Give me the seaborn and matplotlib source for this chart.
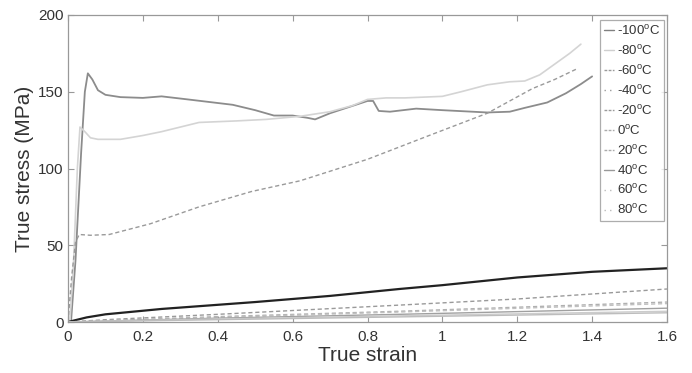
import matplotlib
matplotlib.use("Agg")
import matplotlib.pyplot as plt
import seaborn as sns
import pandas as pd
from matplotlib.lines import Line2D

# ---- data ----
labels = ["-100", "-80", "-60", "-40", "-20", "0", "20", "40", "60", "80"]

strain_m100 = [0, 0.008, 0.02, 0.035, 0.045, 0.053, 0.065, 0.08, 0.1, 0.14, 0.2, 0.25, 0.32, 0.44,
               0.5, 0.55, 0.6, 0.64, 0.66, 0.7, 0.75, 0.8, 0.815, 0.83, 0.86, 0.93, 1.0, 1.12,
               1.18, 1.22, 1.28, 1.33, 1.37, 1.4]
stress_m100 = [0, 0, 40, 110, 150, 162, 158, 151, 148, 146.5, 146, 147, 145, 141.5,
               138, 134.5, 134.5, 133, 132, 136, 140, 144, 144, 137.5, 137, 139, 138, 136.5,
               137, 139.5, 143, 149, 155, 160]

strain_m80 = [0, 0.005, 0.015, 0.025, 0.032, 0.045, 0.06, 0.08, 0.14, 0.2, 0.25, 0.3, 0.35, 0.45,
              0.53, 0.62, 0.7, 0.76, 0.8, 0.85, 0.9, 1.0, 1.05, 1.12, 1.18, 1.22, 1.26, 1.3,
              1.34, 1.37]
stress_m80 = [0, 0, 40, 100, 127, 124, 120, 119, 119, 121.5, 124, 127, 130, 131,
              132, 134, 137, 141, 145, 146, 146, 147, 150, 154.5, 156.5, 157, 161, 168,
              175, 181]

strain_m60 = [0, 0.01, 0.02, 0.03, 0.06, 0.11, 0.22, 0.35, 0.49, 0.62, 0.8, 0.97, 1.12, 1.24, 1.3, 1.36]
stress_m60 = [0, 30, 52, 57, 56.5, 57, 64, 75, 85, 92, 106, 122, 136, 152, 158, 165]

strain_m40 = [0, 0.05, 0.1, 0.25, 0.5, 0.7, 0.885, 1.0, 1.2, 1.4, 1.6]
stress_m40 = [0, 3, 5, 8.5, 13, 17, 21.5, 24, 29, 32.7, 35]

strain_m20 = [0, 0.1, 0.4, 0.885, 1.2, 1.6]
stress_m20 = [0, 1.5, 5, 11, 15, 21.5]

strain_0 = [0, 0.4, 0.885, 1.6]
stress_0 = [0, 3.5, 7, 13]

strain_20 = [0, 0.4, 0.885, 1.6]
stress_20 = [0, 3, 6.5, 12]

strain_40 = [0, 0.4, 0.885, 1.6]
stress_40 = [0, 2.5, 5, 9]

strain_60 = [0, 0.4, 1.6]
stress_60 = [0, 2, 7]

strain_80 = [0, 0.4, 1.6]
stress_80 = [0, 1.5, 6]

x_ticks = [0, 0.2, 0.4, 0.6, 0.8, 1, 1.2, 1.4, 1.6]
x_tick_labels = ["0", "0.2", "0.4", "0.6", "0.8", "1", "1.2", "1.4", "1.6"]
y_ticks = [0, 50, 100, 150, 200]

# ---- styling ----
sns.set_theme(style="white")
plt.rcParams["font.family"] = ["Liberation Sans", "DejaVu Sans"]
plt.rcParams["mathtext.fontset"] = "custom"
plt.rcParams["mathtext.rm"] = "Liberation Sans"
plt.rcParams["mathtext.it"] = "Liberation Sans"

series = [
    (strain_m100, stress_m100, "#8c8c8c", "-", 1.3),
    (strain_m80, stress_m80, "#d4d4d4", "-", 1.2),
    (strain_m60, stress_m60, "#9a9a9a", (0, (3, 2)), 1.0),
    (strain_m40, stress_m40, "#222222", "-", 1.6),
    (strain_m20, stress_m20, "#9a9a9a", (0, (3, 2)), 1.0),
    (strain_0, stress_0, "#b0b0b0", (0, (3, 2)), 1.0),
    (strain_20, stress_20, "#c0c0c0", (0, (3, 2)), 1.0),
    (strain_40, stress_40, "#a0a0a0", "-", 1.0),
    (strain_60, stress_60, "#cccccc", "-", 1.0),
    (strain_80, stress_80, "#bdbdbd", "-", 1.0),
]

fig = plt.figure(figsize=(6.92, 3.73), dpi=100)
ax = fig.add_axes([68 / 692, 1 - 322 / 373, 599 / 692, 307 / 373])

for lab, (xs, ys, col, ls, lw) in zip(labels, series):
    df = pd.DataFrame({"strain": xs, "stress": ys})
    sns.lineplot(data=df, x="strain", y="stress", ax=ax, color=col, linestyle=ls,
                 linewidth=lw, estimator=None, sort=False, legend=False)

ax.set_xlim(0, 1.6)
ax.set_ylim(0, 200)
ax.set_xticks(x_ticks)
ax.set_xticklabels(x_tick_labels)
ax.set_yticks(y_ticks)
ax.set_xlabel("True strain", fontsize=15, color="#333333", labelpad=1.5)
ax.set_ylabel("True stress (MPa)", fontsize=15, color="#333333", labelpad=3)
ax.tick_params(direction="in", length=4, width=0.8, colors="#999999",
               labelcolor="#333333", labelsize=11, top=True, right=True,
               bottom=True, left=True)
ax.tick_params(axis="x", pad=5.5)
ax.tick_params(axis="y", pad=3)
for s in ax.spines.values():
    s.set_color("#999999")
    s.set_linewidth(0.9)

# legend handles mimic the reference legend glyphs
leg_styles = [
    ("#808080", "-"), ("#cfcfcf", "-"), ("#9a9a9a", (0, (2, 1))), ("#9a9a9a", (0, (1, 3))),
    ("#9a9a9a", (0, (2, 1))), ("#aaaaaa", (0, (2, 1))), ("#aaaaaa", (0, (2, 1))),
    ("#999999", "-"), ("#bbbbbb", (0, (1, 3))), ("#bbbbbb", (0, (1, 3))),
]
handles = [Line2D([], [], color=c, linestyle=ls, linewidth=1.0) for c, ls in leg_styles]
leg_labels = [lab + r"$^{\mathrm{o}}$C" for lab in labels]
leg = ax.legend(handles, leg_labels, loc="upper right", bbox_to_anchor=(0.995, 0.984),
                fontsize=9.5, handlelength=0.7, handletextpad=0.25, labelspacing=0.45,
                borderpad=0.3, borderaxespad=0, frameon=True, fancybox=False)
leg.get_frame().set_edgecolor("#999999")
leg.get_frame().set_linewidth(0.9)
for t in leg.get_texts():
    t.set_color("#333333")

fig.savefig("out.png", dpi=100)
